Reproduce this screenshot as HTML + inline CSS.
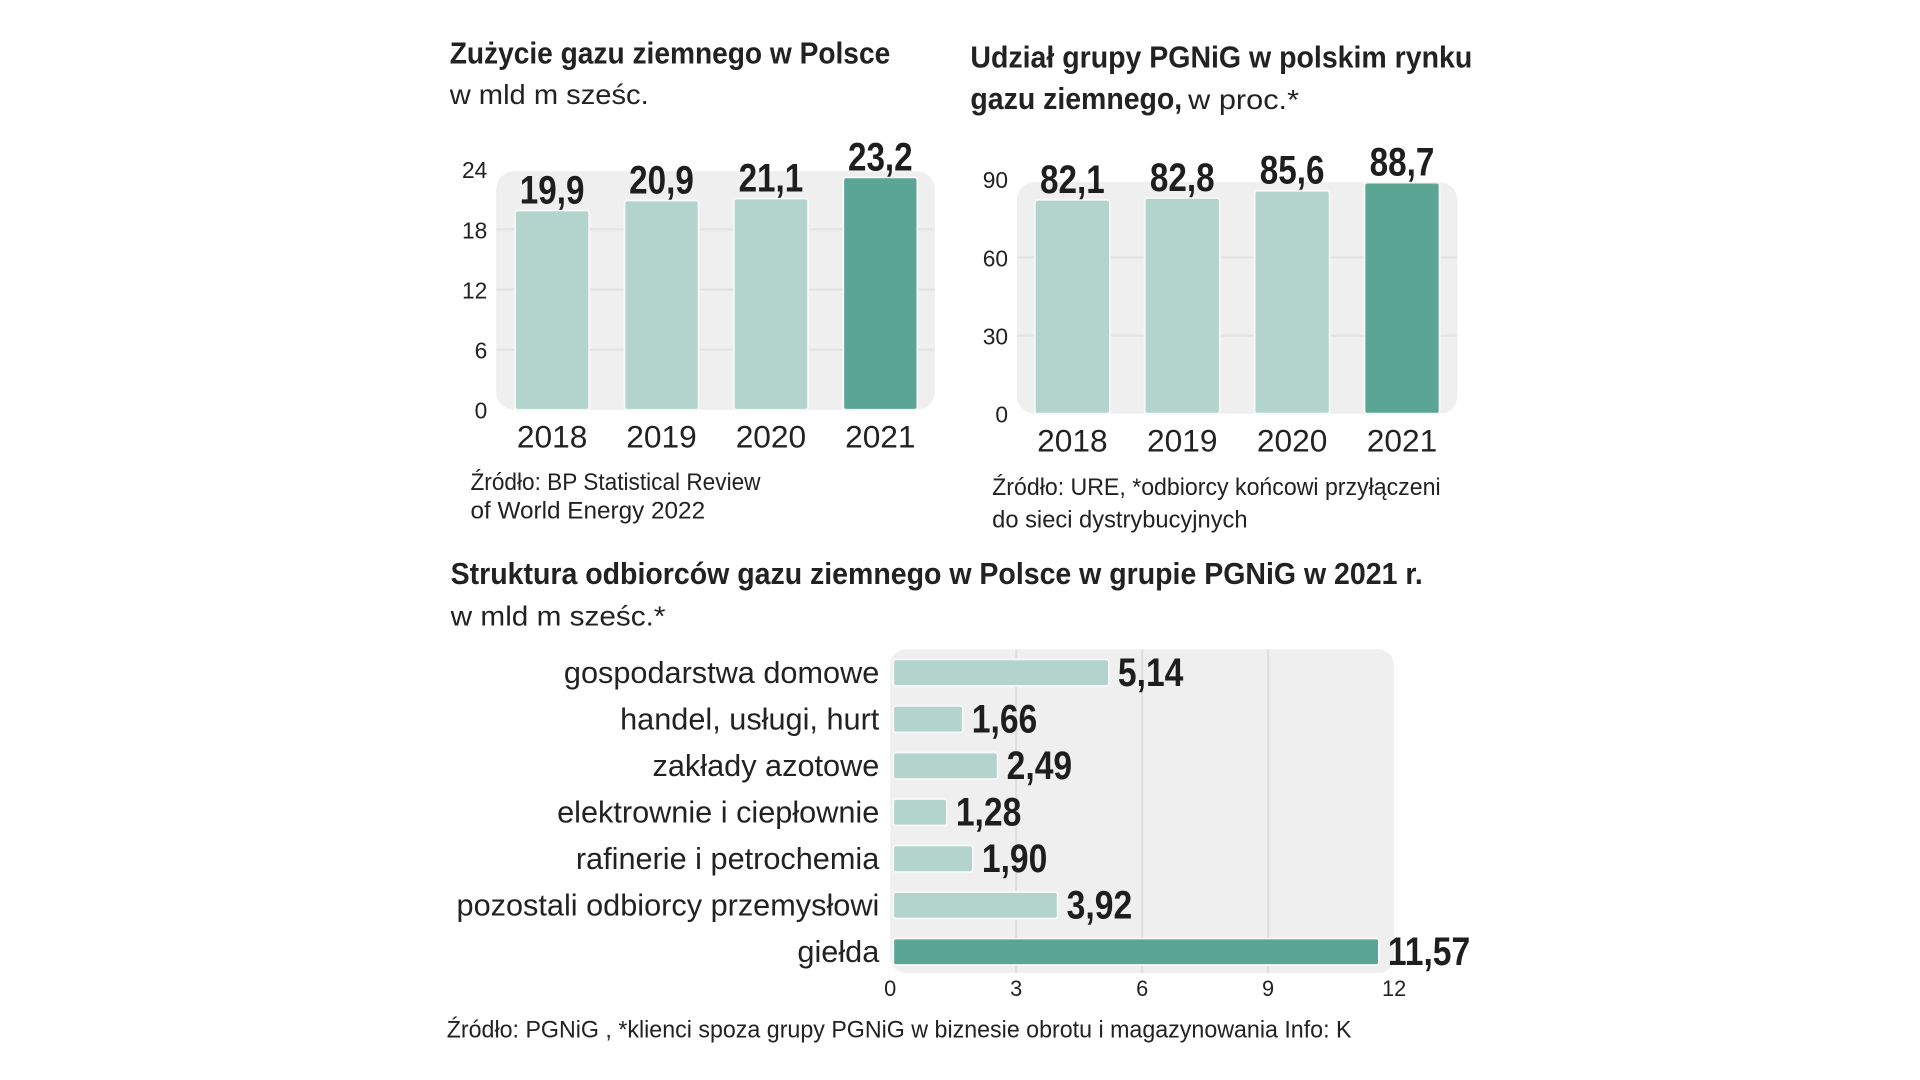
<!DOCTYPE html>
<html><head><meta charset="utf-8"><style>
body{margin:0;background:#fff;width:1920px;height:1080px;overflow:hidden}
svg{display:block}
text{font-family:"Liberation Sans",sans-serif;fill:#222}
.v{font-weight:bold;fill:#1e1e1e}
.t{font-weight:bold}
</style></head><body>
<svg id="s" width="1920" height="1080" viewBox="0 0 1939 1091">
<text class="t fit" data-w="445" x="454" y="64" font-size="31">Zużycie gazu ziemnego w Polsce</text>
<text class="fit" data-w="201" x="454" y="105" font-size="28" fill="#333">w mld m sześc.</text>
<text class="t fit" data-w="507" x="980" y="68" font-size="31">Udział grupy PGNiG w polskim rynku</text>
<text class="t fit" data-w="214" x="980" y="110" font-size="31">gazu ziemnego,</text>
<text class="fit" data-w="112" x="1200" y="110" font-size="28" fill="#333">w proc.*</text>
<text class="fit" data-w="293" x="475" y="495" font-size="24" fill="#333">Źródło: BP Statistical Review</text>
<text class="fit" data-w="237" x="475" y="524" font-size="24" fill="#333">of World Energy 2022</text>
<text class="fit" data-w="453" x="1002" y="500" font-size="24" fill="#333">Źródło: URE, *odbiorcy końcowi przyłączeni</text>
<text class="fit" data-w="258" x="1002" y="533" font-size="24" fill="#333">do sieci dystrybucyjnych</text>
<text class="t fit" data-w="982" x="455" y="590" font-size="31">Struktura odbiorców gazu ziemnego w Polsce w grupie PGNiG w 2021 r.</text>
<text class="fit" data-w="217" x="455" y="632" font-size="28" fill="#333">w mld m sześc.*</text>
<text class="fit" data-w="914" x="451" y="1048" font-size="24" fill="#333">Źródło: PGNiG , *klienci spoza grupy PGNiG w biznesie obrotu i magazynowania    Info: K</text>
</svg>
<script>
const years=["2018","2019","2020","2021"];
const consumption=[19.9,20.9,21.1,23.2];
const consTicks=[0,6,12,18,24];
const share=[82.1,82.8,85.6,88.7];
const shareTicks=[0,30,60,90];
const categories=["gospodarstwa domowe","handel, usługi, hurt","zakłady azotowe","elektrownie i ciepłownie","rafinerie i petrochemia","pozostali odbiorcy przemysłowi","giełda"];
const volumes=[5.14,1.66,2.49,1.28,1.90,3.92,11.57];
const volTicks=[0,3,6,9,12];
const NS="http://www.w3.org/2000/svg";
const svg=document.getElementById('s');
function el(tag,attrs,txt){const e=document.createElementNS(NS,tag);for(const k in attrs)e.setAttribute(k,attrs[k]);if(txt!==undefined)e.textContent=txt;svg.appendChild(e);return e;}
function squeeze(e,r){const w=e.getComputedTextLength();e.setAttribute('textLength',w*r);e.setAttribute('lengthAdjust','spacingAndGlyphs');}
document.querySelectorAll('.fit').forEach(e=>{e.setAttribute('textLength',e.getAttribute('data-w'));e.setAttribute('lengthAdjust','spacingAndGlyphs');});
const fmt=v=>v.toFixed(1).replace('.',',');
function vbar(o){
  const y=v=>o.y0-(v/o.max)*(o.y0-o.yTop);
  const p=el('rect',{x:o.px0,y:o.panelTop,width:o.px1-o.px0,height:o.y0-o.panelTop,rx:18,fill:'#efefef'});
  
  o.ticks.forEach(t=>{
    if(t>0&&t<o.max){const g=el('line',{x1:o.px0,x2:o.px1,y1:y(t),y2:y(t),stroke:'#e2e2e2','stroke-width':2});
    }
    const l=el('text',{x:o.lx,y:y(t)+9,'font-size':23,'text-anchor':'end',fill:'#333'},String(t));
    
  });
  o.vals.forEach((v,i)=>{
    const x=o.bx0+i*o.step;
    const b=el('rect',{x:x,y:y(v),width:o.bw,height:o.y0-y(v),rx:3,fill:i===o.vals.length-1?'#5ba595':'#b2d4cd',stroke:'#f7f7f7','stroke-width':2});
    
    const vl=el('text',{class:'v',x:x+o.bw/2,y:y(v)-7,'font-size':40,'text-anchor':'middle'},fmt(v));
    
    squeeze(vl,0.84);
    const yl=el('text',{x:x+o.bw/2,y:o.y0+38,'font-size':32,'text-anchor':'middle'},years[i]);
    
  });
}
vbar({name:'consumption',vals:consumption,ticks:consTicks,max:24,y0:414,yTop:171,panelTop:173,px0:501,px1:944,lx:492,bx0:520,step:110.5,bw:75});
vbar({name:'share',vals:share,ticks:shareTicks,max:90,y0:418,yTop:181,panelTop:184,px0:1027,px1:1472,lx:1018,bx0:1045,step:111,bw:76});
const x0=899,x1=1408,hmax=12;
const hx=v=>x0+v/hmax*(x1-x0);
const pn=el('rect',{x:x0,y:656,width:x1-x0,height:327,rx:16,fill:'#efefef'});

volTicks.forEach(t=>{
  if(t>0&&t<hmax){const g=el('line',{x1:hx(t),x2:hx(t),y1:656,y2:983,stroke:'#dedede','stroke-width':2});
  }
  const l=el('text',{x:hx(t),y:1006,'font-size':22,'text-anchor':'middle',fill:'#333'},String(t));
  
});
categories.forEach((c,i)=>{
  const cy=679+i*47,v=volumes[i];
  const b=el('rect',{x:hx(0)+3,y:cy-13,width:hx(v)-hx(0),height:27,rx:3,fill:i===categories.length-1?'#5ba595':'#b2d4cd',stroke:'#f7f7f7','stroke-width':2});
  
  const vl=el('text',{class:'v',x:hx(v)+12,y:cy+14,'font-size':40},v.toFixed(2).replace('.',','));
  
  squeeze(vl,0.85);
  const cl=el('text',{x:888,y:cy+11,'font-size':31,'text-anchor':'end'},c);
  
});
</script>
</body></html>
